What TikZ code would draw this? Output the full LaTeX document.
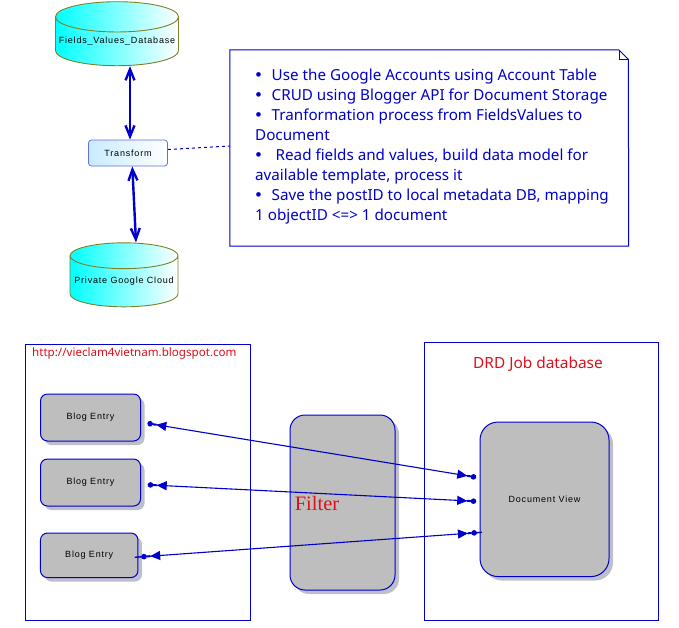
\documentclass[tikz,border=0pt]{standalone}
\usepackage{fontspec}
\usepackage{tikz}
\usetikzlibrary{positioning, arrows.meta, shapes.geometric, shadows}

\newfontfamily\tinyfont[LetterSpace=9]{Liberation Sans}
\newfontfamily\notefont{Noto Sans}
\newfontfamily\filterfont{Liberation Serif}
\newfontfamily\bulletfont{Liberation Sans}

\definecolor{lineblue}{RGB}{0,0,205}
\definecolor{olivedge}{RGB}{128,128,40}
\definecolor{boxgray}{RGB}{190,190,190}
\definecolor{shadowgray}{RGB}{190,190,204}
\definecolor{titlered}{RGB}{222,15,25}

\newcommand{\notebullet}[1][16pt]{\hspace*{0.5pt}\makebox[#1][l]{\bulletfont\fontsize{17}{19}\selectfont •}}

\begin{document}
\begin{tikzpicture}[
    x=1pt,
    y=-1pt,
    dbcyl/.style={
        cylinder,
        shape border rotate=90,
        shape aspect=0.26,
        draw=olivedge,
        line width=0.9pt,
        left color=cyan,
        right color=white,
        minimum height=64pt,
        inner sep=0pt,
        font=\tinyfont\fontsize{9}{11}\selectfont
    },
    procbox/.style={
        rectangle,
        rounded corners=3pt,
        draw={rgb,255:red,100;green,110;blue,225},
        line width=0.8pt,
        left color={rgb,255:red,200;green,235;blue,255},
        right color=white,
        minimum width=79pt,
        minimum height=26pt,
        inner sep=0pt,
        font=\tinyfont\fontsize{9}{11}\selectfont
    },
    graybox/.style={
        rectangle,
        draw=lineblue,
        line width=1pt,
        fill=boxgray,
        copy shadow={shadow xshift=4pt, shadow yshift=-4pt, draw=none, fill=shadowgray},
        inner sep=0pt,
        font=\tinyfont\fontsize{9}{11}\selectfont
    },
    entrybox/.style={graybox, rounded corners=7pt, minimum width=100pt, minimum height=47pt},
    framebox/.style={rectangle, draw=lineblue, line width=1pt, inner sep=0pt},
    noteline/.style={draw=lineblue, line width=1pt},
    bothway/.style={line width=2.4pt, draw=lineblue, {Straight Barb[length=11pt,width=9pt]}-{Straight Barb[length=11pt,width=9pt]}},
    notelink/.style={draw=lineblue, line width=1pt, dash pattern=on 3pt off 3pt},
    flowlink/.style={draw=lineblue, line width=1.1pt,
        {Circle[length=5.5pt] Rectangle[length=3.5pt,width=2pt] Triangle[length=10pt,width=9pt]}-{Triangle[length=10pt,width=9pt] Rectangle[length=3.5pt,width=2pt] Circle[length=5.5pt]}},
    flowlong/.style={draw=lineblue, line width=1.1pt,
        {Rectangle[length=6.5pt,width=1.4pt] Circle[length=5.5pt] Rectangle[length=3.5pt,width=2pt] Triangle[length=10pt,width=9pt]}-{Triangle[length=10pt,width=9pt] Rectangle[length=3.5pt,width=2pt] Circle[length=5.5pt] Rectangle[length=5pt,width=1.4pt]}}
]
\useasboundingbox (0,0) rectangle (679,627);

% top part
\node (fields) [dbcyl, minimum width=123pt] at (117,41.5) {Fields\_Values\_Database};
\node (transform) [procbox] at (128,153) {Transform};
\node (cloud) [dbcyl, minimum width=108pt] at (124,281.5) {\raisebox{2pt}{Private Google Cloud}};

\node (note) [inner sep=0pt, minimum width=398.5pt, minimum height=196pt] at (429.25,148) {};
\node (notetext) [anchor=north west, inner sep=0pt, text=lineblue, align=left,
    font=\notefont\fontsize{15.2}{19.9}\selectfont] at (255,69) {%
    \notebullet Use the Google Accounts using Account Table\\
    \notebullet CRUD using Blogger API for Document Storage\\
    \notebullet Tranformation process from FieldsValues to\\
    Document\\
    \notebullet[20pt]Read fields and values, build data model for\\
    available template, process it\\
    \notebullet Save the postID to local metadata DB, mapping\\
    1 objectID <=> 1 document};
\draw[noteline] (note.north west) -- ++(389,0) -- ++(9.5,9.5) -- (note.south east) -- (note.south west) -- cycle;
\draw[noteline] (619.25,50) -- ++(0,9.5) -- ++(9.5,0);

\draw[bothway] ([xshift=13pt]fields.south) -- ([xshift=2pt]transform.north);
\draw[bothway] ([xshift=4.3pt]transform.south) -- ([xshift=12pt]cloud.north);
\draw[notelink] ([yshift=3.5pt]transform.east) -- ([yshift=2pt]note.west);

% bottom part
\node (blogframe) [framebox, minimum width=225pt, minimum height=275.5pt] at (138,482.25) {};
\node (drdframe) [framebox, minimum width=234.2pt, minimum height=277.5pt] at (541.4,481.25) {};
\node (blogtitle) [text=titlered, font=\notefont\fontsize{11.6}{14}\selectfont, inner sep=0pt, anchor=west] at (32,353) {http://vieclam4vietnam.blogspot.com};
\node (drdtitle) [text=titlered, font=\notefont\fontsize{15.4}{18}\selectfont] at (538,364) {DRD Job database};

\node (entry1) [entrybox] at (90.5,417.5) {Blog Entry};
\node (entry2) [entrybox, below=17pt of entry1] {Blog Entry};
\node (entry3) [entrybox, minimum width=97.5pt, minimum height=44.5pt] at (89.2,555.3) {Blog Entry};

\node (filter) [graybox, rounded corners=15pt, minimum width=105pt, minimum height=175pt] at (342.5,502.5) {};
\node (filtertext) [text=titlered, font=\filterfont\fontsize{20.5}{22}\selectfont] at (317,503) {Filter};
\node (docview) [graybox, rounded corners=18pt, minimum width=129pt, minimum height=154.5pt] at (544.5,499.3) {Document View};

\draw[flowlink] ([xshift=6.4pt,yshift=-5.8pt]entry1.east) -- ([xshift=-3.3pt,yshift=22pt]docview.west);
\draw[flowlink] ([xshift=6.7pt,yshift=-2.3pt]entry2.east) -- ([xshift=-3.3pt,yshift=-2pt]docview.west);
\draw[flowlong] ([xshift=-3.7pt,yshift=-2pt]entry3.east) -- ([xshift=2.4pt,yshift=-33pt]docview.west);

\end{tikzpicture}
\end{document}
